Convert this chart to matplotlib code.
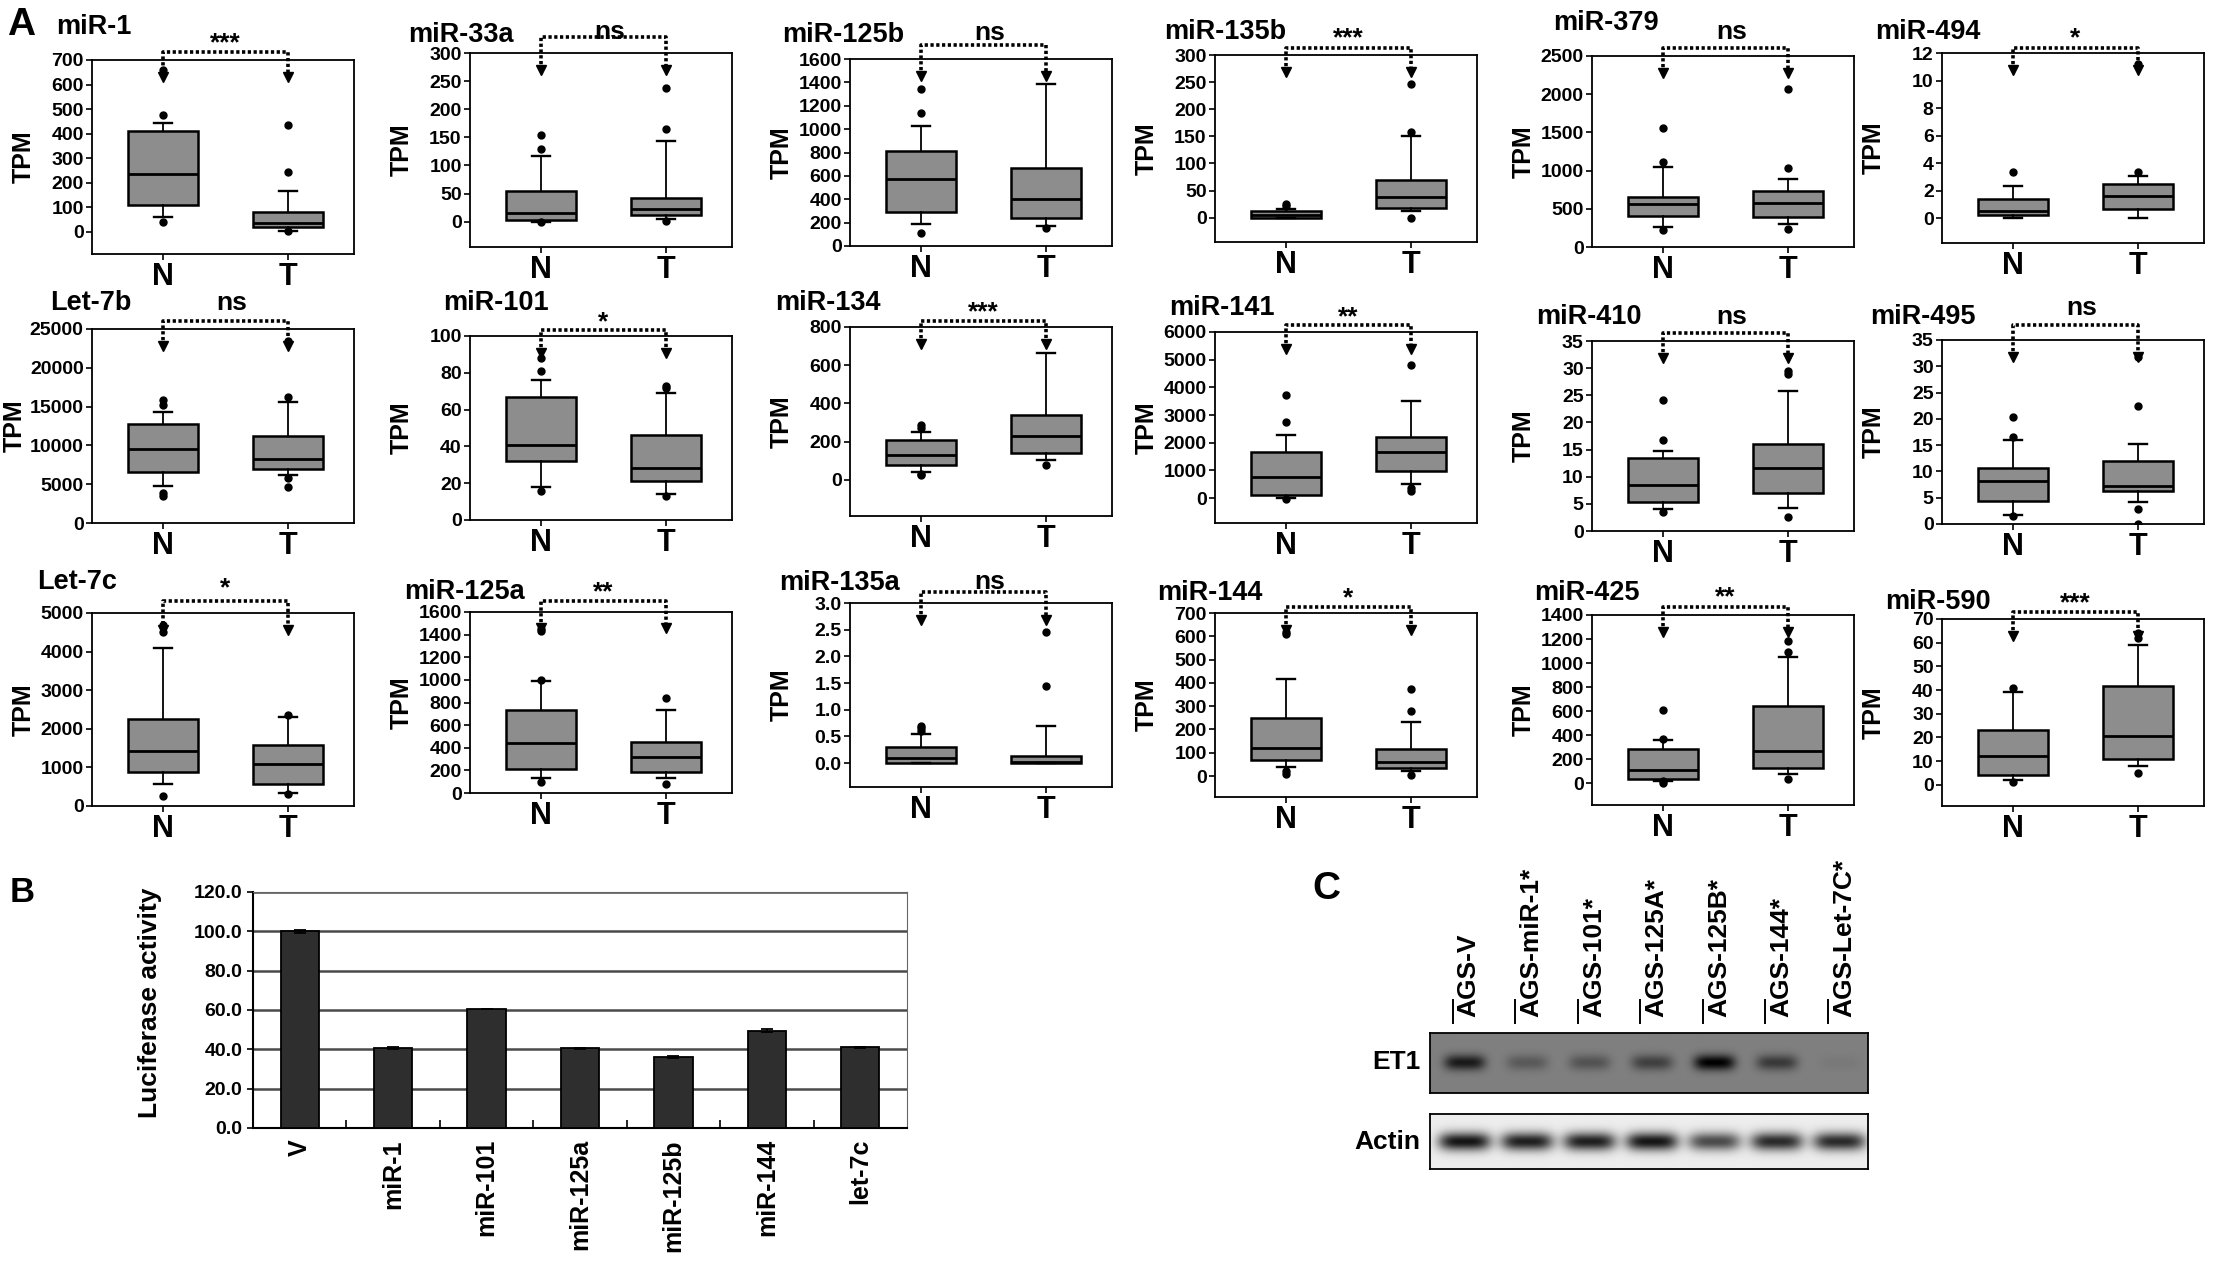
import matplotlib
matplotlib.use("Agg")
import matplotlib.pyplot as plt
import matplotlib.transforms as mtransforms
from matplotlib.ticker import FormatStrFormatter
import numpy as np

plt.rcParams['font.family'] = ['Liberation Sans Narrow', 'Liberation Sans', 'DejaVu Sans']
plt.rcParams['font.weight'] = 'bold'
WIDE = ['Liberation Sans', 'DejaVu Sans']

# ---------------- panel A: TPM box plots, N vs T ----------------
mirnas = ["miR-1", "miR-33a", "miR-125b", "miR-135b", "miR-379", "miR-494",
          "Let-7b", "miR-101", "miR-134", "miR-141", "miR-410", "miR-495",
          "Let-7c", "miR-125a", "miR-135a", "miR-144", "miR-425", "miR-590"]
signif = ["***", "ns", "ns", "***", "ns", "*",
          "ns", "*", "***", "**", "ns", "ns",
          "*", "**", "ns", "*", "**", "***"]

# whisker low, q1, median, q3, whisker high
normal_box = [[60, 110, 235, 410, 445], [0, 3, 15, 55, 117], [190, 290, 570, 810, 1025],
              [0, 0, 5, 13, 15], [260, 410, 560, 650, 1050], [0, 0.25, 0.55, 1.4, 2.35],
              [4800, 6600, 9500, 12800, 14300], [18, 32, 41, 67, 76], [40, 75, 130, 210, 250],
              [0, 100, 750, 1650, 2270], [4, 5.3, 8.5, 13.4, 14.8], [1.8, 4.3, 8.2, 10.6, 16],
              [560, 880, 1430, 2260, 4100], [130, 210, 440, 730, 990], [0, 0, 0.1, 0.3, 0.55],
              [40, 70, 120, 250, 415], [20, 40, 110, 285, 360], [2, 4, 12, 23, 39]]
tumor_box = [[5, 20, 35, 80, 165], [5, 12, 22, 42, 143], [170, 240, 400, 670, 1390],
             [12, 18, 38, 70, 150], [300, 390, 570, 730, 890], [0, 0.7, 1.6, 2.45, 3.05],
             [6200, 7000, 8300, 11200, 15600], [14, 21, 28, 46, 69], [105, 140, 230, 340, 665],
             [500, 980, 1650, 2200, 3500], [4.3, 7, 11.6, 16, 25.8], [4.2, 6.3, 7.3, 11.9, 15.3],
             [330, 560, 1080, 1570, 2300], [130, 190, 320, 450, 730], [0, 0, 0.02, 0.14, 0.7],
             [20, 33, 60, 115, 230], [80, 130, 265, 640, 1050], [8, 11, 20.5, 41.5, 59]]
normal_out = [[40, 475, 660], [0, 130, 155], [110, 1140, 1340], [22, 25], [225, 1110, 1560],
              [3.35], [3500, 3900, 15200, 15800], [16, 81, 88], [25, 30, 270, 285],
              [-20, 2750, 3720], [3.5, 16.7, 24.2], [1.5, 16.5, 20.3], [250, 4500, 4700],
              [100, 1000, 1430, 1450], [0.6, 0.65, 0.7], [10, 20, 610, 620], [5, 20, 370, 610],
              [1, 41]]
tumor_out = [[5, 245, 435], [2, 165, 238], [155], [0, 158, 247], [230, 1030, 2070],
             [3.35, 11.2], [4700, 5800, 16200, 23400], [13, 72, 73], [75],
             [250, 350, 4800], [2.5, 29, 29.5], [0, 2.8, 22.4, 31.8], [300, 2350],
             [80, 840], [1.45, 2.45], [5, 280, 375], [40, 1090, 1180], [5, 62, 64]]

y_top = [700, 300, 1600, 300, 2500, 12, 25000, 100, 800, 6000, 35, 35,
         5000, 1600, 3.0, 700, 1400, 70]
y_step = [100, 50, 200, 50, 500, 2, 5000, 20, 200, 1000, 5, 5,
          1000, 200, 0.5, 100, 200, 10]
y_low = [-90, -45, 0, -45, 0, -1.8, 0, 0, -190, -900, 0, 0,
         0, 0, -0.45, -90, -180, -9]

# ---------------- panel B: luciferase ----------------
luc_labels = ["V", "miR-1", "miR-101", "miR-125a", "miR-125b", "miR-144", "let-7c"]
luc_values = [100.0, 40.5, 60.5, 40.5, 36.0, 49.5, 41.0]
luc_err = [0.6, 0.5, 0.2, 0.2, 0.6, 0.6, 0.2]

# ---------------- panel C: western blot band strengths ----------------
lanes = ["AGS-V", "AGS-miR-1*", "AGS-101*", "AGS-125A*", "AGS-125B*", "AGS-144*", "AGS-Let-7C*"]
et1_band = [0.8, 0.3, 0.35, 0.5, 1.0, 0.55, 0.05]
actin_band = [1.0, 0.95, 0.95, 1.0, 0.75, 0.9, 0.9]

# ---------------- layout (pixels of the 2221x1264 canvas) ----------------
W, H = 2221, 1264
col_left = [92, 470, 850, 1215, 1592, 1942]
panel_w = 262
ax_top = [60, 53, 59, 55, 56, 53, 329, 336, 327, 332, 341, 340, 613, 612, 603, 613, 615, 619]
ax_bot = [254, 247, 246, 242, 247, 243, 523, 520, 516, 523, 531, 524, 806, 793, 787, 797, 805, 806]
title_dx = [-36, -62, -68, -51, -39, -67, -42, -27, -75, -46, -56, -72, -55, -66, -71, -58, -58, -57]
title_y = [27, 35, 35, 32, 23, 32, 303, 303, 303, 308, 317, 317, 582, 592, 583, 593, 593, 602]
sig_y = [37, 32, 33, 33, 32, 33, 303, 317, 307, 312, 317, 308, 583, 587, 582, 593, 592, 598]
bracket_y = [52, 37, 45, 48, 48, 48, 321, 330, 321, 325, 333, 325, 601, 601, 592, 607, 607, 612]

fig = plt.figure(figsize=(W / 100, H / 100), dpi=100)


def px_rect(l, r, t, b):
    return [l / W, 1 - b / H, (r - l) / W, (b - t) / H]


def ftext(x, y, s, **kw):
    fig.text(x / W, 1 - y / H, s, **kw)


DOTS = (0, (0.9, 0.7))

for i, name in enumerate(mirnas):
    c = i % 6
    left = col_left[c]
    top, bot = ax_top[i], ax_bot[i]
    ax = fig.add_axes(px_rect(left, left + panel_w, top, bot))

    stats = []
    for box, out in ((normal_box[i], normal_out[i]), (tumor_box[i], tumor_out[i])):
        lo, q1, med, q3, hi = box
        stats.append(dict(whislo=lo, q1=q1, med=med, q3=q3, whishi=hi, fliers=out))
    ax.bxp(stats, positions=[1, 2], widths=0.56, capwidths=0.15, patch_artist=True,
           boxprops=dict(facecolor='#8d8d8d', edgecolor='black', linewidth=1.8),
           medianprops=dict(color='black', linewidth=2.0),
           whiskerprops=dict(color='black', linewidth=1.3),
           capprops=dict(color='black', linewidth=1.7),
           flierprops=dict(marker='o', markerfacecolor='black', markeredgecolor='black',
                           markersize=5))

    ax.set_xlim(0.43, 2.53)
    ax.set_ylim(y_low[i], y_top[i])
    ax.set_yticks(np.arange(0, y_top[i] + y_step[i] / 2, y_step[i]))
    if y_step[i] < 1:
        ax.yaxis.set_major_formatter(FormatStrFormatter('%.1f'))
    else:
        ax.yaxis.set_major_formatter(FormatStrFormatter('%d'))
    ax.set_xticks([1, 2])
    ax.set_xticklabels(['N', 'T'], fontsize=22)
    ax.tick_params(axis='y', labelsize=14, length=4, width=1.2, pad=2)
    ax.tick_params(axis='x', length=4, width=1.2, pad=2)
    for sp in ax.spines.values():
        sp.set_linewidth(1.3)

    # wider tick labels push the axis title further out
    digits = len('%d' % y_top[i])
    lab_dx = -68 - 9 * max(0, digits - 4)
    ax.text(lab_dx / panel_w, 0.5, 'TPM', transform=ax.transAxes, rotation=90,
            ha='center', va='center', fontsize=18, family=WIDE)
    ftext(left + title_dx[i], title_y[i], name, ha='left', va='center', fontsize=19.5)

    tr = mtransforms.blended_transform_factory(ax.transData, ax.transAxes)
    by = (bot - bracket_y[i]) / (bot - top)
    tip = 0.91
    ax.plot([1, 1, 2, 2], [tip, by, by, tip], ls=DOTS, lw=2.6, color='black',
            transform=tr, clip_on=False)
    ax.plot([1, 2], [tip, tip], ls='none', marker='v', ms=7.5, color='black',
            transform=tr, clip_on=False)
    sy = (bot - sig_y[i]) / (bot - top)
    if signif[i] == 'ns':
        ax.text(1.55, sy, 'ns', transform=tr, ha='center', va='center', fontsize=19)
    else:
        ax.text(1.5, sy - 0.03, signif[i], transform=tr, ha='center', va='center', fontsize=19)

ftext(7, 25, 'A', ha='left', va='center', fontsize=28, family=WIDE)

# ---------------- panel B ----------------
axb = fig.add_axes(px_rect(253, 907, 892, 1128))
xb = np.arange(len(luc_labels))
axb.bar(xb, luc_values, width=0.41, color='#2e2e2e', edgecolor='black', linewidth=1.3,
        yerr=luc_err, capsize=4, error_kw=dict(lw=1.3, capthick=1.3), zorder=3)
axb.set_xlim(-0.5, len(luc_labels) - 0.5)
axb.set_ylim(0, 120)
axb.set_yticks(np.arange(0, 121, 20))
axb.yaxis.set_major_formatter(FormatStrFormatter('%.1f'))
axb.yaxis.grid(True, color='#4a4a4a', linewidth=1.8)
axb.set_axisbelow(True)
axb.set_xticks(xb)
axb.set_xticklabels(luc_labels, rotation=90, fontsize=18, family=WIDE)
axb.set_xticks(xb[:-1] + 0.5, minor=True)
axb.tick_params(axis='x', which='major', length=0, pad=8)
axb.tick_params(axis='x', which='minor', direction='in', length=6, width=1.2)
axb.tick_params(axis='y', labelsize=14, length=4, width=1.2)
axb.spines['top'].set_color('#666666')
axb.spines['right'].set_color('#666666')
axb.spines['left'].set_linewidth(1.5)
axb.spines['bottom'].set_linewidth(1.5)
ftext(150, 1003, 'Luciferase activity', rotation=90, ha='center', va='center',
      fontsize=19, family=WIDE)
ftext(10, 892, 'B', ha='left', va='center', fontsize=25, family=WIDE)

# ---------------- panel C ----------------
xs = np.linspace(0, 7, 440)
ys = np.linspace(0, 1, 60)
X, Y = np.meshgrid(xs, ys)


def blot(levels, base, depth, sx, sy):
    img = np.full(X.shape, base)
    for k, lev in enumerate(levels):
        img += depth * lev * np.exp(-((X - (k + 0.55)) / sx) ** 4) * np.exp(-((Y - 0.5) / sy) ** 2)
    return np.clip(img, 0, 1)


et1_ax = fig.add_axes(px_rect(1430, 1868, 1033, 1093))
et1_ax.imshow(blot(et1_band, 0.5, 0.5, 0.33, 0.13), extent=(0, 7, 0, 1), aspect='auto',
              cmap='gray_r', vmin=0, vmax=1, interpolation='bilinear')
actin_ax = fig.add_axes(px_rect(1430, 1868, 1114, 1169))
actin_ax.imshow(blot(actin_band, 0.07, 0.85, 0.42, 0.17), extent=(0, 7, 0, 1), aspect='auto',
                cmap='gray_r', vmin=0, vmax=1, interpolation='bilinear')
for a in (et1_ax, actin_ax):
    a.set_xticks([])
    a.set_yticks([])
    for sp in a.spines.values():
        sp.set_linewidth(1.3)

trc = mtransforms.blended_transform_factory(et1_ax.transData, et1_ax.transAxes)
for k, lab in enumerate(lanes):
    et1_ax.text(k + 0.62, 1.27, lab, transform=trc, rotation=90, ha='center', va='bottom',
                fontsize=19, family=WIDE)
    et1_ax.plot([k + 0.36, k + 0.36], [1.17, 1.55], color='black', lw=1.4,
                transform=trc, clip_on=False)

ftext(1420, 1062, 'ET1', ha='right', va='center', fontsize=19, family=WIDE)
ftext(1420, 1142, 'Actin', ha='right', va='center', fontsize=19, family=WIDE)
ftext(1312, 889, 'C', ha='left', va='center', fontsize=28, family=WIDE)

fig.savefig('out.png', dpi=100, facecolor='white')
